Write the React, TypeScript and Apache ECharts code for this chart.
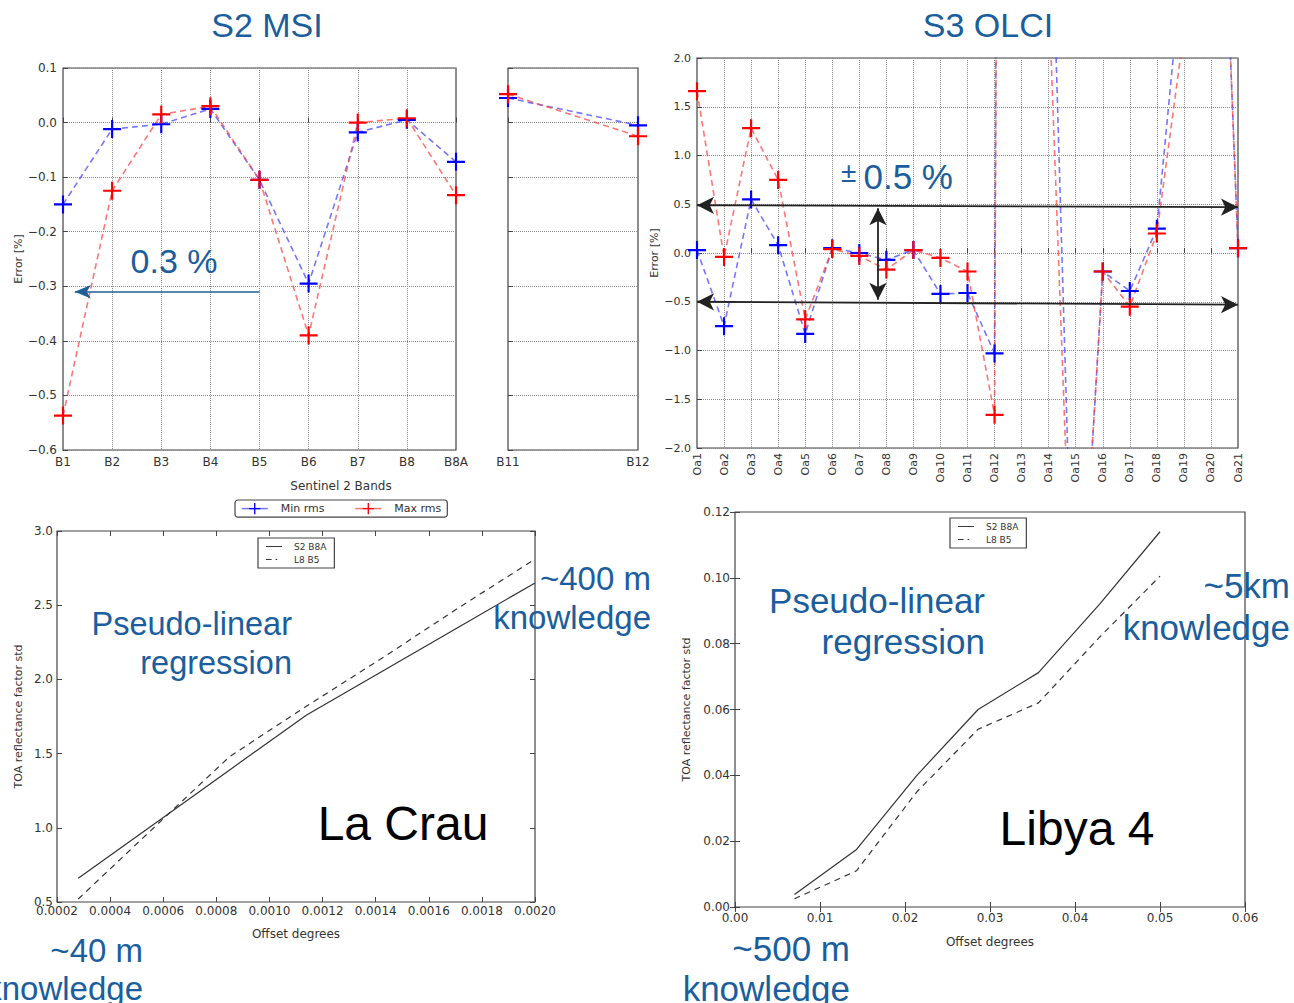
import React, { useEffect, useRef } from "react";
import * as echarts from "echarts";

// ---------- data ----------
const s2Bands = ["B1", "B2", "B3", "B4", "B5", "B6", "B7", "B8", "B8A"];
const s2MinRms = [-0.15, -0.012, -0.003, 0.025, -0.105, -0.295, -0.018, 0.005, -0.072];
const s2MaxRms = [-0.537, -0.125, 0.015, 0.03, -0.105, -0.39, 0.0, 0.008, -0.133];

const s2SwirBands = ["B11", "B12"];
const s2SwirMinRms = [0.045, -0.005];
const s2SwirMaxRms = [0.052, -0.025];

const olciBands = [
  "Oa1", "Oa2", "Oa3", "Oa4", "Oa5", "Oa6", "Oa7", "Oa8", "Oa9", "Oa10", "Oa11",
  "Oa12", "Oa13", "Oa14", "Oa15", "Oa16", "Oa17", "Oa18", "Oa19", "Oa20", "Oa21",
];
const olciMinRms = [0.03, -0.75, 0.55, 0.08, -0.83, 0.05, 0.0, -0.07, 0.03, -0.42, -0.41, -1.03, 60, 4.6, -4.8, -0.19, -0.39, 0.25, 3.15, 7.1, 0.05];
const olciMaxRms = [1.66, -0.04, 1.28, 0.75, -0.68, 0.04, -0.03, -0.17, 0.03, -0.05, -0.19, -1.66, 64, 2.67, -4.8, -0.19, -0.55, 0.2, 2.27, 7.1, 0.05];

const laCrauOffsets = [0.00028, 0.00057, 0.00085, 0.00114, 0.00143, 0.00171, 0.002];
const laCrauS2B8A = [0.66, 1.03, 1.39, 1.76, 2.06, 2.35, 2.65];
const laCrauL8B5 = [0.52, 1.01, 1.48, 1.82, 2.15, 2.48, 2.81];

const libyaOffsets = [0.007, 0.0143, 0.0214, 0.0286, 0.0357, 0.0429, 0.05];
const libyaS2B8A = [0.0038, 0.0175, 0.04, 0.06, 0.0712, 0.092, 0.114];
const libyaL8B5 = [0.0025, 0.011, 0.035, 0.054, 0.062, 0.082, 0.1005];

// ---------- styles ----------
const BLUE_TXT = "#1b5e9d";
const AX = "#444";
const TICK_FONT = "DejaVu Sans";
const SLIDE_FONT = "Liberation Sans";
const PLUS = "path://M0,8.8H20V11.2H0Z M8.8,0H11.2V20H8.8Z";
const ICON_SOLID = "path://M0,0M20,10M0,4.4H20V5.6H0Z";
const ICON_DASH = "path://M0,0M20,10M0,4.4H7V5.6H0Z M12,4.4H14V5.6H12Z";

const fmt = (d: number) => (v: number) => {
  const x = Math.abs(v) < 1e-12 ? 0 : v;
  return x.toFixed(d).replace("-", "\u2212");
};

const pairs = (xs: number[], ys: number[]) => xs.map((x, i) => [x, ys[i]]);
const idxPairs = (ys: number[], start = 0) => ys.map((y, i) => [i + start, y]);

function App() {
  const ref = useRef<HTMLDivElement>(null);

  useEffect(() => {
    if (!ref.current) return;
    const chart = echarts.init(ref.current, undefined, { renderer: "svg" });

    const dotted = { show: true, lineStyle: { type: "dotted" as const, color: "#8a8a8a", width: 1 } };
    const tickLbl = { fontFamily: TICK_FONT, fontSize: 12, color: "#333" };
    const inTick = { show: true, inside: true, length: 5, lineStyle: { color: AX } };

    const gridBase = { show: true, borderColor: AX, borderWidth: 1.2, backgroundColor: "transparent" };

    const lineSeries = (name: string, color: string, lineColor: string, xi: number, data: number[][], extra: any = {}) => ({
      type: "line",
      name,
      xAxisIndex: xi,
      yAxisIndex: xi,
      data,
      symbol: PLUS,
      symbolSize: 18,
      showAllSymbol: true,
      clip: true,
      itemStyle: { color },
      lineStyle: { color: lineColor, width: 1.6, type: [6, 4] },
      emphasis: { disabled: true },
      z: 3,
      ...extra,
    });

    const plainLine = (name: string, xi: number, data: number[][], dashed: boolean) => ({
      type: "line",
      name,
      xAxisIndex: xi,
      yAxisIndex: xi,
      data,
      symbol: "none",
      itemStyle: { color: "#333" },
      lineStyle: { color: "#333", width: 1.2, type: dashed ? [6, 5] : "solid" },
      emphasis: { disabled: true },
    });

    const smallLegend = (left: number, top: number) => ({
      data: [
        { name: "S2 B8A", icon: ICON_SOLID },
        { name: "L8 B5", icon: ICON_DASH },
      ],
      left, top, orient: "vertical",
      selectedMode: false, borderColor: AX, borderWidth: 1.2,
      padding: [4, 8], itemGap: 4, itemWidth: 18, itemHeight: 8,
      itemStyle: { color: "#333" },
      textStyle: { fontFamily: TICK_FONT, fontSize: 9, color: "#333", padding: [0, 0, 0, 6] },
    });

    const option: any = {
      animation: false,
      grid: [
        { ...gridBase, left: 63, top: 68, width: 393, height: 382 },
        { ...gridBase, left: 508, top: 68, width: 130, height: 382 },
        { ...gridBase, left: 697, top: 58, width: 541, height: 390 },
        { ...gridBase, left: 57, top: 531, width: 478, height: 371 },
        { ...gridBase, left: 735, top: 512, width: 510, height: 395 },
      ],
      xAxis: [
        {
          gridIndex: 0, type: "value", min: 0, max: 8, interval: 1,
          axisLine: { show: false }, axisTick: inTick, splitLine: dotted,
          axisLabel: { ...tickLbl, margin: 6, formatter: (v: number) => s2Bands[Math.round(v)] },
        },
        {
          gridIndex: 1, type: "value", min: 0, max: 1, interval: 1,
          axisLine: { show: false }, axisTick: inTick, splitLine: dotted,
          axisLabel: { ...tickLbl, margin: 6, formatter: (v: number) => s2SwirBands[Math.round(v)] },
        },
        {
          gridIndex: 2, type: "value", min: 1, max: 21, interval: 1,
          axisLine: { show: false }, axisTick: inTick, splitLine: dotted,
          axisLabel: { ...tickLbl, fontSize: 11, rotate: 90, margin: 5, formatter: (v: number) => olciBands[Math.round(v) - 1] },
        },
        {
          gridIndex: 3, type: "value", min: 0.0002, max: 0.002, interval: 0.0002,
          axisLine: { show: false }, axisTick: inTick, splitLine: { show: false },
          axisLabel: { ...tickLbl, margin: 3, formatter: fmt(4) },
          name: "Offset degrees", nameLocation: "middle", nameGap: 26,
          nameTextStyle: { fontFamily: TICK_FONT, fontSize: 12, color: "#333" },
        },
        {
          gridIndex: 4, type: "value", min: 0, max: 0.06, interval: 0.01,
          axisLine: { show: false }, axisTick: inTick, splitLine: { show: false },
          axisLabel: { ...tickLbl, margin: 5, formatter: fmt(2) },
          name: "Offset degrees", nameLocation: "middle", nameGap: 29,
          nameTextStyle: { fontFamily: TICK_FONT, fontSize: 12, color: "#333" },
        },
        {
          gridIndex: 3, type: "value", position: "top", min: 0.0002, max: 0.002, interval: 0.0002,
          axisLine: { show: false }, axisTick: inTick, axisLabel: { show: false }, splitLine: { show: false },
        },
        {
          gridIndex: 4, type: "value", position: "top", min: 0, max: 0.06, interval: 0.01,
          axisLine: { show: false }, axisTick: inTick, axisLabel: { show: false }, splitLine: { show: false },
        },
      ],
      yAxis: [
        {
          gridIndex: 0, type: "value", min: -0.6, max: 0.1, interval: 0.1,
          axisLine: { show: false }, axisTick: inTick, splitLine: dotted,
          axisLabel: { ...tickLbl, margin: 6, formatter: fmt(1) },
          name: "Error [%]", nameLocation: "middle", nameGap: 38,
          nameTextStyle: { fontFamily: TICK_FONT, fontSize: 11, color: "#333" },
        },
        {
          gridIndex: 1, type: "value", min: -0.6, max: 0.1, interval: 0.1,
          axisLine: { show: false }, axisTick: inTick, splitLine: dotted,
          axisLabel: { show: false },
        },
        {
          gridIndex: 2, type: "value", min: -2, max: 2, interval: 0.5,
          axisLine: { show: false }, axisTick: inTick, splitLine: dotted,
          axisLabel: { ...tickLbl, fontSize: 11, margin: 6, formatter: fmt(1) },
          name: "Error [%]", nameLocation: "middle", nameGap: 36,
          nameTextStyle: { fontFamily: TICK_FONT, fontSize: 11, color: "#333" },
        },
        {
          gridIndex: 3, type: "value", min: 0.5, max: 3, interval: 0.5,
          axisLine: { show: false }, axisTick: inTick, splitLine: { show: false },
          axisLabel: { ...tickLbl, margin: 4, formatter: fmt(1) },
          name: "TOA reflectance factor std", nameLocation: "middle", nameGap: 33,
          nameTextStyle: { fontFamily: TICK_FONT, fontSize: 11, color: "#333" },
        },
        {
          gridIndex: 4, type: "value", min: 0, max: 0.12, interval: 0.02,
          axisLine: { show: false }, axisTick: inTick, splitLine: { show: false },
          axisLabel: { ...tickLbl, margin: 5, formatter: fmt(2) },
          name: "TOA reflectance factor std", nameLocation: "middle", nameGap: 43,
          nameTextStyle: { fontFamily: TICK_FONT, fontSize: 11, color: "#333" },
        },
        {
          gridIndex: 3, type: "value", position: "right", min: 0.5, max: 3, interval: 0.5,
          axisLine: { show: false }, axisTick: inTick, axisLabel: { show: false }, splitLine: { show: false },
        },
        {
          gridIndex: 4, type: "value", position: "right", min: 0, max: 0.12, interval: 0.02,
          axisLine: { show: false }, axisTick: inTick, axisLabel: { show: false }, splitLine: { show: false },
        },
      ],
      legend: [
        {
          data: ["Min rms", "Max rms"], left: 235, top: 500, orient: "horizontal",
          selectedMode: false, borderColor: AX, borderWidth: 1.2, borderRadius: 3,
          padding: [3, 6], itemGap: 30, itemWidth: 26, itemHeight: 14,
          lineStyle: { type: "solid", width: 1.5 },
          textStyle: { fontFamily: TICK_FONT, fontSize: 11, color: "#333", padding: [0, 0, 0, 8] },
        },
        smallLegend(258, 538),
        smallLegend(950, 518),
      ],
      series: [
        lineSeries("Min rms", "#0000ff", "rgba(60,60,255,0.7)", 0, idxPairs(s2MinRms), {
          markLine: {
            silent: true, animation: false, symbol: ["none", "arrow"], symbolSize: [10, 16],
            label: { show: false },
            lineStyle: { color: "#1f5f95", width: 1.5, type: "solid" },
            data: [[{ coord: [4, -0.31] }, { coord: [0.24, -0.31] }]],
          },
        }),
        lineSeries("Max rms", "#ff0000", "rgba(255,60,60,0.7)", 0, idxPairs(s2MaxRms)),
        lineSeries("Min rms", "#0000ff", "rgba(60,60,255,0.7)", 1, idxPairs(s2SwirMinRms)),
        lineSeries("Max rms", "#ff0000", "rgba(255,60,60,0.7)", 1, idxPairs(s2SwirMaxRms)),
        lineSeries("Min rms", "#0000ff", "rgba(60,60,255,0.7)", 2, idxPairs(olciMinRms, 1), {
          markLine: {
            silent: true, animation: false, symbol: ["arrow", "arrow"], symbolSize: [13, 17],
            label: { show: false },
            lineStyle: { color: "#222", width: 1.8, type: "solid" },
            data: [
              [{ coord: [1, 0.49] }, { coord: [21, 0.47] }],
              [{ coord: [1, -0.5] }, { coord: [21, -0.53] }],
              [{ coord: [7.69, 0.46] }, { coord: [7.69, -0.48] }],
            ],
          },
        }),
        lineSeries("Max rms", "#ff0000", "rgba(255,60,60,0.7)", 2, idxPairs(olciMaxRms, 1)),
        plainLine("S2 B8A", 3, pairs(laCrauOffsets, laCrauS2B8A), false),
        plainLine("L8 B5", 3, pairs(laCrauOffsets, laCrauL8B5), true),
        plainLine("S2 B8A", 4, pairs(libyaOffsets, libyaS2B8A), false),
        plainLine("L8 B5", 4, pairs(libyaOffsets, libyaL8B5), true),
      ],
      graphic: [
        ...[
          { t: "S2 MSI", x: 267, y: 25, s: 34, a: "center", c: BLUE_TXT },
          { t: "S3 OLCI", x: 988, y: 25, s: 34, a: "center", c: BLUE_TXT },
          { t: "0.3 %", x: 174, y: 261, s: 34, a: "center", c: BLUE_TXT },
          { t: "Pseudo-linear", x: 292, y: 624, s: 32.5, a: "right", c: BLUE_TXT },
          { t: "regression", x: 292, y: 663, s: 32.5, a: "right", c: BLUE_TXT },
          { t: "~400 m", x: 651, y: 578, s: 33, a: "right", c: BLUE_TXT },
          { t: "knowledge", x: 651, y: 617, s: 33, a: "right", c: BLUE_TXT },
          { t: "La Crau", x: 403, y: 823, s: 48, a: "center", c: "#000" },
          { t: "~40 m", x: 143, y: 950, s: 33, a: "right", c: BLUE_TXT },
          { t: "knowledge", x: 143, y: 988, s: 33, a: "right", c: BLUE_TXT },
          { t: "Pseudo-linear", x: 985, y: 600, s: 35, a: "right", c: BLUE_TXT },
          { t: "regression", x: 985, y: 641, s: 35, a: "right", c: BLUE_TXT },
          { t: "~5km", x: 1290, y: 585, s: 35, a: "right", c: BLUE_TXT },
          { t: "knowledge", x: 1290, y: 627, s: 35, a: "right", c: BLUE_TXT },
          { t: "Libya 4", x: 1077, y: 828, s: 48, a: "center", c: "#000" },
          { t: "~500 m", x: 850, y: 948, s: 35, a: "right", c: BLUE_TXT },
          { t: "knowledge", x: 850, y: 988, s: 35, a: "right", c: BLUE_TXT },
        ].map((d) => ({
          type: "text", x: d.x, y: d.y, z: 10, silent: true,
          style: {
            text: d.t, fill: d.c, font: `${d.s}px "${SLIDE_FONT}", Arial, sans-serif`,
            textAlign: d.a, textVerticalAlign: "middle",
          },
        })),
        {
          type: "text", x: 897, y: 176, z: 10, silent: true,
          style: {
            text: "{a|±}{b|0.5 %}", textAlign: "center", textVerticalAlign: "middle",
            rich: {
              a: { fontSize: 28, fontFamily: SLIDE_FONT, fill: BLUE_TXT, color: BLUE_TXT, padding: [0, 7, 8, 0] },
              b: { fontSize: 35, fontFamily: SLIDE_FONT, fill: BLUE_TXT, color: BLUE_TXT },
            },
          },
        },
        {
          type: "text", x: 341, y: 486, z: 10, silent: true,
          style: {
            text: "Sentinel 2 Bands", fill: "#333", font: `12px "${TICK_FONT}"`,
            textAlign: "center", textVerticalAlign: "middle",
          },
        },
      ],
    };

    chart.setOption(option);
    return () => chart.dispose();
  }, []);

  return (
    <div
      ref={ref}
      style={{ position: "absolute", left: 0, top: 0, width: 1294, height: 1003, background: "#fff" }}
    />
  );
}

export default App;
